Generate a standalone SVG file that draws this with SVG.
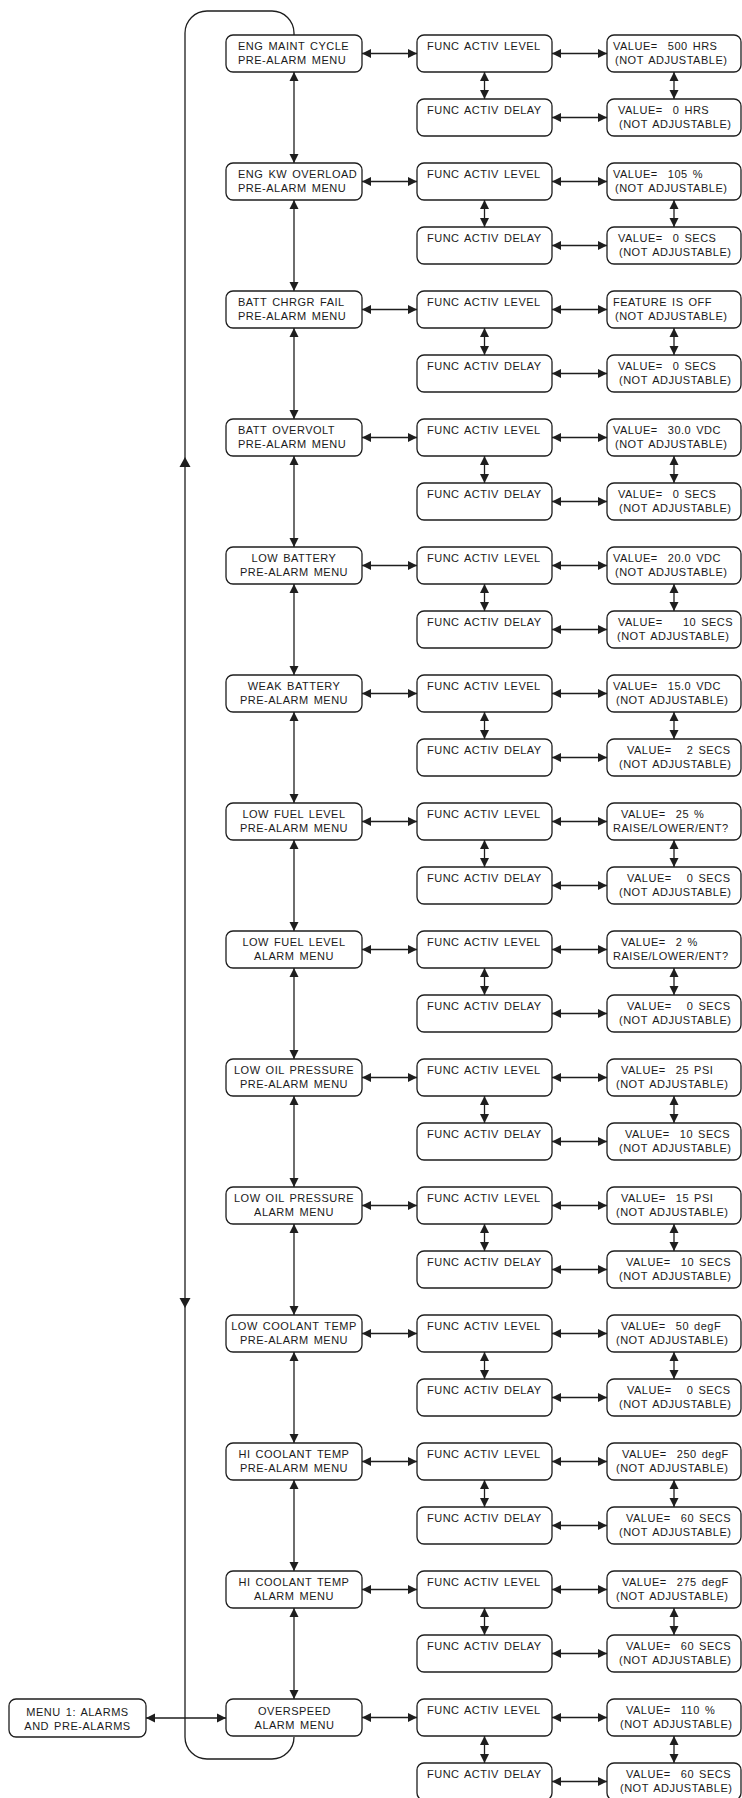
<svg xmlns="http://www.w3.org/2000/svg" width="742" height="1798" viewBox="0 0 742 1798">
<style>
rect{fill:#fff;stroke:#1e1e1e;stroke-width:1.3}
text{font-family:"Liberation Sans",Arial,sans-serif;font-size:11px;letter-spacing:0.5px;word-spacing:1.5px;fill:#1a1a1a}
.c{text-anchor:middle}
.ln{stroke:#1e1e1e;stroke-width:1.3;fill:none}
.a{marker-start:url(#ah);marker-end:url(#ah)}
.hd{fill:#1e1e1e;stroke:none}
</style>
<defs>
<marker id="ah" markerUnits="userSpaceOnUse" markerWidth="10" markerHeight="10" refX="9" refY="5" orient="auto-start-reverse" viewBox="0 0 10 10">
<path d="M0,0.5 L9,5 L0,9.5 z" fill="#1e1e1e"/>
</marker>
</defs>

<g id="connectors">
<path class="ln" d="M294,35 V33 A22,22 0 0 0 272,11 H207 A22,22 0 0 0 185,33 V1737 A22,22 0 0 0 207,1759 H272 A22,22 0 0 0 294,1737"/>
<path class="hd" d="M185,457 L179.5,467 L190.5,467 z"/>
<path class="hd" d="M185,1308 L179.5,1298 L190.5,1298 z"/>
<line class="ln a" x1="146" y1="1718" x2="226" y2="1718"/>
<g transform="translate(0,35)"><line class="ln a" x1="362" y1="18.5" x2="417" y2="18.5"/><line class="ln a" x1="552" y1="18.5" x2="607" y2="18.5"/><line class="ln a" x1="552" y1="82.5" x2="607" y2="82.5"/><line class="ln a" x1="484.5" y1="37" x2="484.5" y2="64"/><line class="ln a" x1="674" y1="37" x2="674" y2="64"/><line class="ln a" x1="294" y1="37" x2="294" y2="128"/></g>
<g transform="translate(0,163)"><line class="ln a" x1="362" y1="18.5" x2="417" y2="18.5"/><line class="ln a" x1="552" y1="18.5" x2="607" y2="18.5"/><line class="ln a" x1="552" y1="82.5" x2="607" y2="82.5"/><line class="ln a" x1="484.5" y1="37" x2="484.5" y2="64"/><line class="ln a" x1="674" y1="37" x2="674" y2="64"/><line class="ln a" x1="294" y1="37" x2="294" y2="128"/></g>
<g transform="translate(0,291)"><line class="ln a" x1="362" y1="18.5" x2="417" y2="18.5"/><line class="ln a" x1="552" y1="18.5" x2="607" y2="18.5"/><line class="ln a" x1="552" y1="82.5" x2="607" y2="82.5"/><line class="ln a" x1="484.5" y1="37" x2="484.5" y2="64"/><line class="ln a" x1="674" y1="37" x2="674" y2="64"/><line class="ln a" x1="294" y1="37" x2="294" y2="128"/></g>
<g transform="translate(0,419)"><line class="ln a" x1="362" y1="18.5" x2="417" y2="18.5"/><line class="ln a" x1="552" y1="18.5" x2="607" y2="18.5"/><line class="ln a" x1="552" y1="82.5" x2="607" y2="82.5"/><line class="ln a" x1="484.5" y1="37" x2="484.5" y2="64"/><line class="ln a" x1="674" y1="37" x2="674" y2="64"/><line class="ln a" x1="294" y1="37" x2="294" y2="128"/></g>
<g transform="translate(0,547)"><line class="ln a" x1="362" y1="18.5" x2="417" y2="18.5"/><line class="ln a" x1="552" y1="18.5" x2="607" y2="18.5"/><line class="ln a" x1="552" y1="82.5" x2="607" y2="82.5"/><line class="ln a" x1="484.5" y1="37" x2="484.5" y2="64"/><line class="ln a" x1="674" y1="37" x2="674" y2="64"/><line class="ln a" x1="294" y1="37" x2="294" y2="128"/></g>
<g transform="translate(0,675)"><line class="ln a" x1="362" y1="18.5" x2="417" y2="18.5"/><line class="ln a" x1="552" y1="18.5" x2="607" y2="18.5"/><line class="ln a" x1="552" y1="82.5" x2="607" y2="82.5"/><line class="ln a" x1="484.5" y1="37" x2="484.5" y2="64"/><line class="ln a" x1="674" y1="37" x2="674" y2="64"/><line class="ln a" x1="294" y1="37" x2="294" y2="128"/></g>
<g transform="translate(0,803)"><line class="ln a" x1="362" y1="18.5" x2="417" y2="18.5"/><line class="ln a" x1="552" y1="18.5" x2="607" y2="18.5"/><line class="ln a" x1="552" y1="82.5" x2="607" y2="82.5"/><line class="ln a" x1="484.5" y1="37" x2="484.5" y2="64"/><line class="ln a" x1="674" y1="37" x2="674" y2="64"/><line class="ln a" x1="294" y1="37" x2="294" y2="128"/></g>
<g transform="translate(0,931)"><line class="ln a" x1="362" y1="18.5" x2="417" y2="18.5"/><line class="ln a" x1="552" y1="18.5" x2="607" y2="18.5"/><line class="ln a" x1="552" y1="82.5" x2="607" y2="82.5"/><line class="ln a" x1="484.5" y1="37" x2="484.5" y2="64"/><line class="ln a" x1="674" y1="37" x2="674" y2="64"/><line class="ln a" x1="294" y1="37" x2="294" y2="128"/></g>
<g transform="translate(0,1059)"><line class="ln a" x1="362" y1="18.5" x2="417" y2="18.5"/><line class="ln a" x1="552" y1="18.5" x2="607" y2="18.5"/><line class="ln a" x1="552" y1="82.5" x2="607" y2="82.5"/><line class="ln a" x1="484.5" y1="37" x2="484.5" y2="64"/><line class="ln a" x1="674" y1="37" x2="674" y2="64"/><line class="ln a" x1="294" y1="37" x2="294" y2="128"/></g>
<g transform="translate(0,1187)"><line class="ln a" x1="362" y1="18.5" x2="417" y2="18.5"/><line class="ln a" x1="552" y1="18.5" x2="607" y2="18.5"/><line class="ln a" x1="552" y1="82.5" x2="607" y2="82.5"/><line class="ln a" x1="484.5" y1="37" x2="484.5" y2="64"/><line class="ln a" x1="674" y1="37" x2="674" y2="64"/><line class="ln a" x1="294" y1="37" x2="294" y2="128"/></g>
<g transform="translate(0,1315)"><line class="ln a" x1="362" y1="18.5" x2="417" y2="18.5"/><line class="ln a" x1="552" y1="18.5" x2="607" y2="18.5"/><line class="ln a" x1="552" y1="82.5" x2="607" y2="82.5"/><line class="ln a" x1="484.5" y1="37" x2="484.5" y2="64"/><line class="ln a" x1="674" y1="37" x2="674" y2="64"/><line class="ln a" x1="294" y1="37" x2="294" y2="128"/></g>
<g transform="translate(0,1443)"><line class="ln a" x1="362" y1="18.5" x2="417" y2="18.5"/><line class="ln a" x1="552" y1="18.5" x2="607" y2="18.5"/><line class="ln a" x1="552" y1="82.5" x2="607" y2="82.5"/><line class="ln a" x1="484.5" y1="37" x2="484.5" y2="64"/><line class="ln a" x1="674" y1="37" x2="674" y2="64"/><line class="ln a" x1="294" y1="37" x2="294" y2="128"/></g>
<g transform="translate(0,1571)"><line class="ln a" x1="362" y1="18.5" x2="417" y2="18.5"/><line class="ln a" x1="552" y1="18.5" x2="607" y2="18.5"/><line class="ln a" x1="552" y1="82.5" x2="607" y2="82.5"/><line class="ln a" x1="484.5" y1="37" x2="484.5" y2="64"/><line class="ln a" x1="674" y1="37" x2="674" y2="64"/><line class="ln a" x1="294" y1="37" x2="294" y2="128"/></g>
<g transform="translate(0,1699)"><line class="ln a" x1="362" y1="18.5" x2="417" y2="18.5"/><line class="ln a" x1="552" y1="18.5" x2="607" y2="18.5"/><line class="ln a" x1="552" y1="82.5" x2="607" y2="82.5"/><line class="ln a" x1="484.5" y1="37" x2="484.5" y2="64"/><line class="ln a" x1="674" y1="37" x2="674" y2="64"/></g>
</g>

<g id="menu1" transform="translate(9,1699)"><rect width="137" height="38" rx="7"/><text class="c" x="68.5" y="16.5">MENU 1: ALARMS</text><text class="c" x="68.5" y="31">AND PRE-ALARMS</text></g>

<g id="menu-0" transform="translate(226,35)"><rect width="136" height="37" rx="7"/><text x="12" y="14.5">ENG MAINT CYCLE</text><text x="12" y="29">PRE-ALARM MENU</text></g>
<g id="menu-1" transform="translate(226,163)"><rect width="136" height="37" rx="7"/><text x="12" y="14.5">ENG KW OVERLOAD</text><text x="12" y="29">PRE-ALARM MENU</text></g>
<g id="menu-2" transform="translate(226,291)"><rect width="136" height="37" rx="7"/><text x="12" y="14.5">BATT CHRGR FAIL</text><text x="12" y="29">PRE-ALARM MENU</text></g>
<g id="menu-3" transform="translate(226,419)"><rect width="136" height="37" rx="7"/><text x="12" y="14.5">BATT OVERVOLT</text><text x="12" y="29">PRE-ALARM MENU</text></g>
<g id="menu-4" transform="translate(226,547)"><rect width="136" height="37" rx="7"/><text class="c" x="68" y="14.5">LOW BATTERY</text><text class="c" x="68" y="29">PRE-ALARM MENU</text></g>
<g id="menu-5" transform="translate(226,675)"><rect width="136" height="37" rx="7"/><text class="c" x="68" y="14.5">WEAK BATTERY</text><text class="c" x="68" y="29">PRE-ALARM MENU</text></g>
<g id="menu-6" transform="translate(226,803)"><rect width="136" height="37" rx="7"/><text class="c" x="68" y="14.5">LOW FUEL LEVEL</text><text class="c" x="68" y="29">PRE-ALARM MENU</text></g>
<g id="menu-7" transform="translate(226,931)"><rect width="136" height="37" rx="7"/><text class="c" x="68" y="14.5">LOW FUEL LEVEL</text><text class="c" x="68" y="29">ALARM MENU</text></g>
<g id="menu-8" transform="translate(226,1059)"><rect width="136" height="37" rx="7"/><text class="c" x="68" y="14.5">LOW OIL PRESSURE</text><text class="c" x="68" y="29">PRE-ALARM MENU</text></g>
<g id="menu-9" transform="translate(226,1187)"><rect width="136" height="37" rx="7"/><text class="c" x="68" y="14.5">LOW OIL PRESSURE</text><text class="c" x="68" y="29">ALARM MENU</text></g>
<g id="menu-10" transform="translate(226,1315)"><rect width="136" height="37" rx="7"/><text class="c" x="68" y="14.5">LOW COOLANT TEMP</text><text class="c" x="68" y="29">PRE-ALARM MENU</text></g>
<g id="menu-11" transform="translate(226,1443)"><rect width="136" height="37" rx="7"/><text class="c" x="68" y="14.5">HI COOLANT TEMP</text><text class="c" x="68" y="29">PRE-ALARM MENU</text></g>
<g id="menu-12" transform="translate(226,1571)"><rect width="136" height="37" rx="7"/><text class="c" x="68" y="14.5">HI COOLANT TEMP</text><text class="c" x="68" y="29">ALARM MENU</text></g>
<g id="menu-13" transform="translate(226,1699)"><rect width="136" height="37" rx="7"/><text class="c" x="68.5" y="15.5">OVERSPEED</text><text class="c" x="68.5" y="30">ALARM MENU</text></g>

<g id="level-0" transform="translate(417,35)"><rect width="135" height="37" rx="7"/><text x="10" y="14.5">FUNC ACTIV LEVEL</text></g>
<g id="delay-0" transform="translate(417,99)"><rect width="135" height="37" rx="7"/><text x="10" y="14.5">FUNC ACTIV DELAY</text></g>
<g id="level-1" transform="translate(417,163)"><rect width="135" height="37" rx="7"/><text x="10" y="14.5">FUNC ACTIV LEVEL</text></g>
<g id="delay-1" transform="translate(417,227)"><rect width="135" height="37" rx="7"/><text x="10" y="14.5">FUNC ACTIV DELAY</text></g>
<g id="level-2" transform="translate(417,291)"><rect width="135" height="37" rx="7"/><text x="10" y="14.5">FUNC ACTIV LEVEL</text></g>
<g id="delay-2" transform="translate(417,355)"><rect width="135" height="37" rx="7"/><text x="10" y="14.5">FUNC ACTIV DELAY</text></g>
<g id="level-3" transform="translate(417,419)"><rect width="135" height="37" rx="7"/><text x="10" y="14.5">FUNC ACTIV LEVEL</text></g>
<g id="delay-3" transform="translate(417,483)"><rect width="135" height="37" rx="7"/><text x="10" y="14.5">FUNC ACTIV DELAY</text></g>
<g id="level-4" transform="translate(417,547)"><rect width="135" height="37" rx="7"/><text x="10" y="14.5">FUNC ACTIV LEVEL</text></g>
<g id="delay-4" transform="translate(417,611)"><rect width="135" height="37" rx="7"/><text x="10" y="14.5">FUNC ACTIV DELAY</text></g>
<g id="level-5" transform="translate(417,675)"><rect width="135" height="37" rx="7"/><text x="10" y="14.5">FUNC ACTIV LEVEL</text></g>
<g id="delay-5" transform="translate(417,739)"><rect width="135" height="37" rx="7"/><text x="10" y="14.5">FUNC ACTIV DELAY</text></g>
<g id="level-6" transform="translate(417,803)"><rect width="135" height="37" rx="7"/><text x="10" y="14.5">FUNC ACTIV LEVEL</text></g>
<g id="delay-6" transform="translate(417,867)"><rect width="135" height="37" rx="7"/><text x="10" y="14.5">FUNC ACTIV DELAY</text></g>
<g id="level-7" transform="translate(417,931)"><rect width="135" height="37" rx="7"/><text x="10" y="14.5">FUNC ACTIV LEVEL</text></g>
<g id="delay-7" transform="translate(417,995)"><rect width="135" height="37" rx="7"/><text x="10" y="14.5">FUNC ACTIV DELAY</text></g>
<g id="level-8" transform="translate(417,1059)"><rect width="135" height="37" rx="7"/><text x="10" y="14.5">FUNC ACTIV LEVEL</text></g>
<g id="delay-8" transform="translate(417,1123)"><rect width="135" height="37" rx="7"/><text x="10" y="14.5">FUNC ACTIV DELAY</text></g>
<g id="level-9" transform="translate(417,1187)"><rect width="135" height="37" rx="7"/><text x="10" y="14.5">FUNC ACTIV LEVEL</text></g>
<g id="delay-9" transform="translate(417,1251)"><rect width="135" height="37" rx="7"/><text x="10" y="14.5">FUNC ACTIV DELAY</text></g>
<g id="level-10" transform="translate(417,1315)"><rect width="135" height="37" rx="7"/><text x="10" y="14.5">FUNC ACTIV LEVEL</text></g>
<g id="delay-10" transform="translate(417,1379)"><rect width="135" height="37" rx="7"/><text x="10" y="14.5">FUNC ACTIV DELAY</text></g>
<g id="level-11" transform="translate(417,1443)"><rect width="135" height="37" rx="7"/><text x="10" y="14.5">FUNC ACTIV LEVEL</text></g>
<g id="delay-11" transform="translate(417,1507)"><rect width="135" height="37" rx="7"/><text x="10" y="14.5">FUNC ACTIV DELAY</text></g>
<g id="level-12" transform="translate(417,1571)"><rect width="135" height="37" rx="7"/><text x="10" y="14.5">FUNC ACTIV LEVEL</text></g>
<g id="delay-12" transform="translate(417,1635)"><rect width="135" height="37" rx="7"/><text x="10" y="14.5">FUNC ACTIV DELAY</text></g>
<g id="level-13" transform="translate(417,1699)"><rect width="135" height="37" rx="7"/><text x="10" y="14.5">FUNC ACTIV LEVEL</text></g>
<g id="delay-13" transform="translate(417,1763)"><rect width="135" height="37" rx="7"/><text x="10" y="14.5">FUNC ACTIV DELAY</text></g>

<g id="lval-0" transform="translate(607,35)"><rect width="134" height="37" rx="7"/><text x="6" y="14.5" xml:space="preserve">VALUE=  500 HRS</text><text x="8" y="29">(NOT ADJUSTABLE)</text></g>
<g id="dval-0" transform="translate(607,99)"><rect width="134" height="37" rx="7"/><text x="11" y="14.5" xml:space="preserve">VALUE=  0 HRS</text><text x="12" y="29">(NOT ADJUSTABLE)</text></g>
<g id="lval-1" transform="translate(607,163)"><rect width="134" height="37" rx="7"/><text x="6" y="14.5" xml:space="preserve">VALUE=  105 %</text><text x="8" y="29">(NOT ADJUSTABLE)</text></g>
<g id="dval-1" transform="translate(607,227)"><rect width="134" height="37" rx="7"/><text x="11" y="14.5" xml:space="preserve">VALUE=  0 SECS</text><text x="12" y="29">(NOT ADJUSTABLE)</text></g>
<g id="lval-2" transform="translate(607,291)"><rect width="134" height="37" rx="7"/><text x="6" y="14.5">FEATURE IS OFF</text><text x="8" y="29">(NOT ADJUSTABLE)</text></g>
<g id="dval-2" transform="translate(607,355)"><rect width="134" height="37" rx="7"/><text x="11" y="14.5" xml:space="preserve">VALUE=  0 SECS</text><text x="12" y="29">(NOT ADJUSTABLE)</text></g>
<g id="lval-3" transform="translate(607,419)"><rect width="134" height="37" rx="7"/><text x="6" y="14.5" xml:space="preserve">VALUE=  30.0 VDC</text><text x="8" y="29">(NOT ADJUSTABLE)</text></g>
<g id="dval-3" transform="translate(607,483)"><rect width="134" height="37" rx="7"/><text x="11" y="14.5" xml:space="preserve">VALUE=  0 SECS</text><text x="12" y="29">(NOT ADJUSTABLE)</text></g>
<g id="lval-4" transform="translate(607,547)"><rect width="134" height="37" rx="7"/><text x="6" y="14.5" xml:space="preserve">VALUE=  20.0 VDC</text><text x="8" y="29">(NOT ADJUSTABLE)</text></g>
<g id="dval-4" transform="translate(607,611)"><rect width="134" height="37" rx="7"/><text x="11" y="14.5" xml:space="preserve">VALUE=    10 SECS</text><text x="10" y="29">(NOT ADJUSTABLE)</text></g>
<g id="lval-5" transform="translate(607,675)"><rect width="134" height="37" rx="7"/><text x="6" y="14.5" xml:space="preserve">VALUE=  15.0 VDC</text><text x="9" y="29">(NOT ADJUSTABLE)</text></g>
<g id="dval-5" transform="translate(607,739)"><rect width="134" height="37" rx="7"/><text x="20" y="14.5" xml:space="preserve">VALUE=   2 SECS</text><text x="12" y="29">(NOT ADJUSTABLE)</text></g>
<g id="lval-6" transform="translate(607,803)"><rect width="134" height="37" rx="7"/><text x="14" y="14.5" xml:space="preserve">VALUE=  25 %</text><text x="6" y="29">RAISE/LOWER/ENT?</text></g>
<g id="dval-6" transform="translate(607,867)"><rect width="134" height="37" rx="7"/><text x="20" y="14.5" xml:space="preserve">VALUE=   0 SECS</text><text x="12" y="29">(NOT ADJUSTABLE)</text></g>
<g id="lval-7" transform="translate(607,931)"><rect width="134" height="37" rx="7"/><text x="14" y="14.5" xml:space="preserve">VALUE=  2 %</text><text x="6" y="29">RAISE/LOWER/ENT?</text></g>
<g id="dval-7" transform="translate(607,995)"><rect width="134" height="37" rx="7"/><text x="20" y="14.5" xml:space="preserve">VALUE=   0 SECS</text><text x="12" y="29">(NOT ADJUSTABLE)</text></g>
<g id="lval-8" transform="translate(607,1059)"><rect width="134" height="37" rx="7"/><text x="14" y="14.5" xml:space="preserve">VALUE=  25 PSI</text><text x="9" y="29">(NOT ADJUSTABLE)</text></g>
<g id="dval-8" transform="translate(607,1123)"><rect width="134" height="37" rx="7"/><text x="18" y="14.5" xml:space="preserve">VALUE=  10 SECS</text><text x="12" y="29">(NOT ADJUSTABLE)</text></g>
<g id="lval-9" transform="translate(607,1187)"><rect width="134" height="37" rx="7"/><text x="14" y="14.5" xml:space="preserve">VALUE=  15 PSI</text><text x="9" y="29">(NOT ADJUSTABLE)</text></g>
<g id="dval-9" transform="translate(607,1251)"><rect width="134" height="37" rx="7"/><text x="19" y="14.5" xml:space="preserve">VALUE=  10 SECS</text><text x="12" y="29">(NOT ADJUSTABLE)</text></g>
<g id="lval-10" transform="translate(607,1315)"><rect width="134" height="37" rx="7"/><text x="14" y="14.5" xml:space="preserve">VALUE=  50 degF</text><text x="9" y="29">(NOT ADJUSTABLE)</text></g>
<g id="dval-10" transform="translate(607,1379)"><rect width="134" height="37" rx="7"/><text x="20" y="14.5" xml:space="preserve">VALUE=   0 SECS</text><text x="12" y="29">(NOT ADJUSTABLE)</text></g>
<g id="lval-11" transform="translate(607,1443)"><rect width="134" height="37" rx="7"/><text x="15" y="14.5" xml:space="preserve">VALUE=  250 degF</text><text x="9" y="29">(NOT ADJUSTABLE)</text></g>
<g id="dval-11" transform="translate(607,1507)"><rect width="134" height="37" rx="7"/><text x="19" y="14.5" xml:space="preserve">VALUE=  60 SECS</text><text x="12" y="29">(NOT ADJUSTABLE)</text></g>
<g id="lval-12" transform="translate(607,1571)"><rect width="134" height="37" rx="7"/><text x="15" y="14.5" xml:space="preserve">VALUE=  275 degF</text><text x="9" y="29">(NOT ADJUSTABLE)</text></g>
<g id="dval-12" transform="translate(607,1635)"><rect width="134" height="37" rx="7"/><text x="19" y="14.5" xml:space="preserve">VALUE=  60 SECS</text><text x="12" y="29">(NOT ADJUSTABLE)</text></g>
<g id="lval-13" transform="translate(607,1699)"><rect width="134" height="37" rx="7"/><text x="19" y="14.5" xml:space="preserve">VALUE=  110 %</text><text x="13" y="29">(NOT ADJUSTABLE)</text></g>
<g id="dval-13" transform="translate(607,1763)"><rect width="134" height="37" rx="7"/><text x="19" y="14.5" xml:space="preserve">VALUE=  60 SECS</text><text x="13" y="29">(NOT ADJUSTABLE)</text></g>
</svg>
